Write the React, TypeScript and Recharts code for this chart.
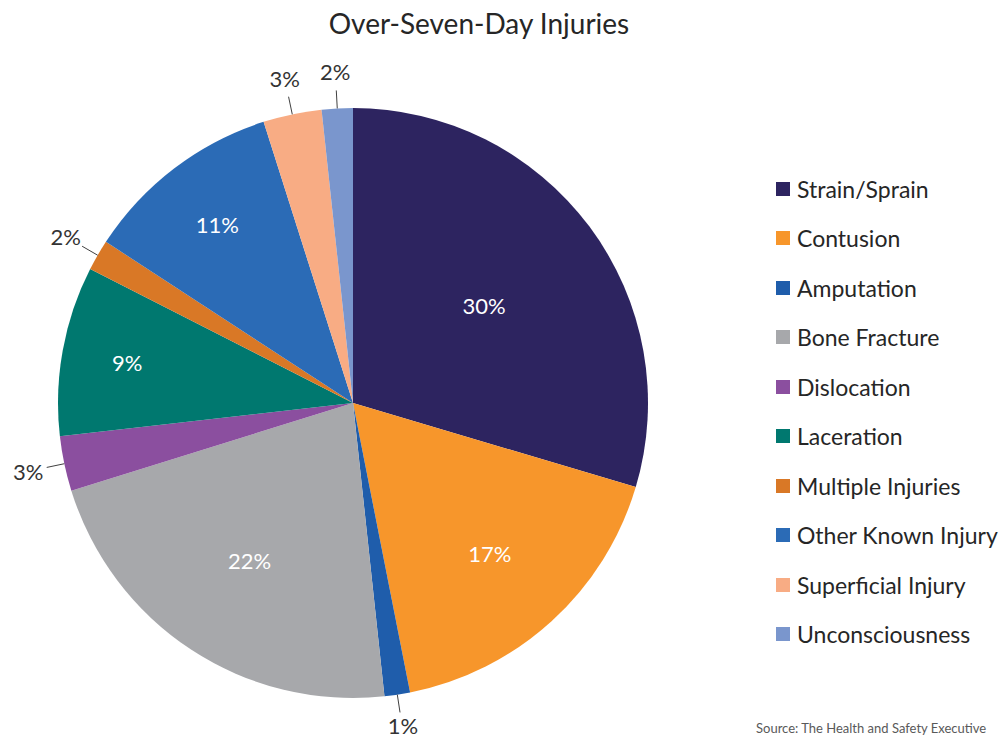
import { PieChart, Pie, Cell, Legend } from 'recharts';

const categories = [
  'Strain/Sprain',
  'Contusion',
  'Amputation',
  'Bone Fracture',
  'Dislocation',
  'Laceration',
  'Multiple Injuries',
  'Other Known Injury',
  'Superficial Injury',
  'Unconsciousness',
];
const shares = [29.6, 17.3, 1.4, 21.9, 3.0, 9.3, 1.7, 10.9, 3.2, 1.7];
const colors = [
  '#2d2460',
  '#f7962b',
  '#1f5dab',
  '#a7a8ab',
  '#8b4f9f',
  '#00786f',
  '#d97826',
  '#2b6bb6',
  '#f8ac84',
  '#7a96cd',
];

const chartData = categories.map((name, i) => ({ name, value: shares[i] }));

const FONT = 'Lato, "Open Sans", sans-serif';
const RADIAN = Math.PI / 180;
const CHART_H = 740;

function renderLabel(props: any) {
  const { cx, cy, midAngle, outerRadius, percent } = props;
  const text = `${Math.round(percent * 100)}%`;
  const cos = Math.cos(-midAngle * RADIAN);
  const sin = Math.sin(-midAngle * RADIAN);

  if (percent >= 0.05) {
    // bigger slices get their label closer to the centre
    const r = outerRadius * (0.88 - 1.1 * percent);
    return (
      <text
        x={cx + r * cos}
        y={cy + r * sin}
        fill="#ffffff"
        fontSize={22}
        fontFamily={FONT}
        textAnchor="middle"
        dominantBaseline="central"
      >
        {text}
      </text>
    );
  }

  const sx = cx + outerRadius * cos;
  const sy = cy + outerRadius * sin;
  const ex = cx + (outerRadius + 18) * cos;
  const ey = cy + (outerRadius + 18) * sin;
  const lx = cx + (outerRadius + 37) * cos;
  // keep the bottom label inside the picture
  const ly = Math.min(cy + (outerRadius + 37) * sin, CHART_H - 15);
  return (
    <g>
      <line x1={sx} y1={sy} x2={ex} y2={ey} stroke="#404040" strokeWidth={1} />
      <text
        x={lx}
        y={ly}
        fill="#333333"
        fontSize={22}
        fontFamily={FONT}
        textAnchor="middle"
        dominantBaseline="central"
      >
        {text}
      </text>
    </g>
  );
}

function LegendList() {
  return (
    <div style={{ fontFamily: FONT }}>
      {categories.map((name, i) => (
        <div
          key={name}
          style={{ display: 'flex', alignItems: 'center', height: 49.5 }}
        >
          <span
            style={{
              width: 14,
              height: 14,
              background: colors[i],
              display: 'inline-block',
              marginRight: 7,
            }}
          />
          <span style={{ fontSize: 23, color: '#262626', whiteSpace: 'nowrap' }}>{name}</span>
        </div>
      ))}
    </div>
  );
}

export default function App() {
  return (
    <div
      style={{
        position: 'absolute',
        left: 0,
        top: 0,
        width: 1007,
        height: CHART_H,
        overflow: 'hidden',
        background: '#ffffff',
        fontFamily: FONT,
      }}
    >
      <div
        style={{
          position: 'absolute',
          left: 0,
          top: 6,
          width: 958,
          textAlign: 'center',
          fontSize: 28,
          color: '#262626',
        }}
      >
        Over-Seven-Day Injuries
      </div>
      <PieChart width={1007} height={CHART_H} margin={{ top: 0, right: 0, bottom: 0, left: 0 }}>
        <Pie
          data={chartData}
          dataKey="value"
          nameKey="name"
          cx={353}
          cy={403}
          outerRadius={295}
          startAngle={90}
          endAngle={-270}
          stroke="none"
          label={renderLabel}
          labelLine={false}
          isAnimationActive={false}
        >
          {chartData.map((d, i) => (
            <Cell key={d.name} fill={colors[i]} />
          ))}
        </Pie>
        <Legend
          layout="vertical"
          align="right"
          verticalAlign="top"
          content={() => <LegendList />}
          wrapperStyle={{ left: 776, top: 164, width: 231 }}
        />
      </PieChart>
      <div
        style={{
          position: 'absolute',
          left: 756,
          top: 720,
          fontSize: 13,
          color: '#595959',
          whiteSpace: 'nowrap',
        }}
      >
        Source: The Health and Safety Executive
      </div>
    </div>
  );
}
